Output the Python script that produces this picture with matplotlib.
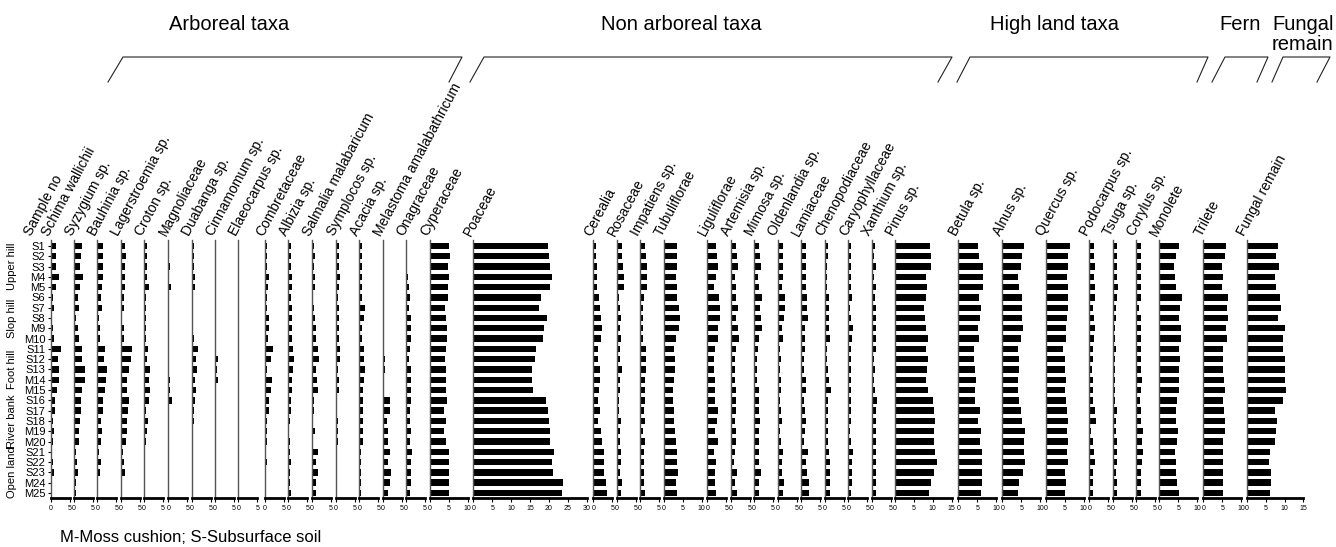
import numpy as np
import matplotlib.pyplot as plt
from matplotlib.lines import Line2D

plt.rcParams['font.family'] = ['Liberation Sans', 'DejaVu Sans']

samples = ['S1', 'S2', 'S3', 'M4', 'M5', 'S6', 'S7', 'S8', 'M9', 'M10',
           'S11', 'S12', 'S13', 'M14', 'M15', 'S16', 'S17', 'S18', 'M19', 'M20',
           'S21', 'S22', 'S23', 'M24', 'M25']
sites = ['Upper hill', 'Slop hill', 'Foot hill', 'River bank', 'Open land']

# percentages, S1 .. M25
schima = [1.3, 1.3, 1.3, 2.1, 1.3, 0.7, 0.9, 0.4, 0.6, 0.9, 2.7, 2.0, 2.3, 2.2, 1.7,
          1.2, 1.2, 0.7, 0.9, 0.7, 0.3, 0.6, 1.0, 0.2, 0.3]
syzygium = [2.1, 1.9, 1.7, 2.3, 1.5, 1.1, 1.3, 0.6, 1.1, 1.3, 2.2, 2.1, 3.0, 2.8, 2.2,
            1.8, 1.9, 1.5, 1.3, 1.2, 0.6, 0.9, 1.1, 0.5, 0.5]
bauhinia = [1.4, 1.4, 1.4, 1.6, 1.2, 0.9, 1.2, 0.5, 0.6, 0.7, 2.0, 1.9, 2.5, 2.3, 2.0,
            1.5, 1.4, 1.0, 1.2, 1.1, 0.4, 1.0, 0.7, 0.2, 0.2]
lagerstroemia = [1.1, 1.4, 1.2, 1.2, 1.1, 0.9, 0.9, 0.4, 0.8, 1.0, 2.9, 2.8, 2.1, 1.7, 1.7,
                 2.3, 1.9, 1.7, 1.7, 1.4, 0.7, 0.9, 1.2, 0.2, 0.4]
croton = [0.7, 0.7, 0.7, 0.8, 1.2, 0.5, 0.5, 0.5, 0.4, 0.4, 1.0, 0.8, 1.7, 1.2, 1.5,
          1.2, 0.4, 1.0, 0.8, 0.4, 0.2, 0.2, 0.2, 0.1, 0.1]
magnoliaceae = [0.3, 0.3, 0.4, 0.3, 0.8, 0.2, 0.2, 0.2, 0.2, 0.2, 0.3, 0.3, 0.3, 0.4, 0.5,
                0.9, 0.2, 0.1, 0.1, 0.1, 0.1, 0.1, 0.1, 0.0, 0.0]
duabanga = [0.5, 0.5, 0.5, 1.0, 0.9, 0.3, 0.4, 0.4, 0.4, 0.6, 1.6, 1.2, 1.4, 1.0, 1.1,
            0.8, 0.5, 0.6, 0.4, 0.4, 0.1, 0.1, 0.1, 0.1, 0.1]
cinnamomum = [0.1, 0.1, 0.1, 0.1, 0.1, 0.1, 0.1, 0.1, 0.1, 0.1, 0.3, 0.7, 0.4, 0.7, 0.3,
              0.1, 0.1, 0.1, 0.1, 0.1, 0.1, 0.1, 0.1, 0.1, 0.1]
elaeocarpus = [0.1, 0.1, 0.3, 0.1, 0.1, 0.1, 0.1, 0.1, 0.1, 0.1, 0.1, 0.1, 0.1, 0.1, 0.3,
               0.1, 0.1, 0.1, 0.1, 0.1, 0.1, 0.1, 0.1, 0.1, 0.1]
combretaceae = [0.4, 0.4, 0.4, 1.1, 0.9, 0.4, 0.4, 1.0, 1.0, 0.8, 2.0, 1.5, 0.6, 1.9, 1.5,
                1.1, 1.1, 0.5, 0.5, 0.4, 0.3, 0.4, 0.3, 0.2, 0.2]
albizia = [0.7, 0.7, 0.7, 0.9, 0.9, 0.7, 0.9, 0.9, 0.9, 0.9, 1.3, 1.6, 1.2, 1.1, 1.0,
           0.7, 0.7, 0.4, 0.3, 0.4, 0.5, 0.7, 0.4, 0.4, 0.6]
salmalia = [0.7, 0.9, 0.7, 0.9, 0.9, 0.4, 0.6, 1.0, 1.1, 1.1, 1.6, 1.9, 1.1, 1.3, 1.6,
            0.6, 0.6, 0.4, 0.9, 0.3, 1.6, 1.2, 1.6, 1.1, 1.2]
symplocos = [0.8, 0.7, 0.7, 1.0, 0.9, 0.4, 0.7, 0.9, 0.8, 0.8, 1.0, 1.0, 0.6, 0.8, 0.8,
             0.3, 0.3, 0.4, 0.5, 0.4, 0.1, 0.1, 0.3, 0.3, 0.3]
acacia = [0.7, 0.6, 0.7, 0.7, 0.7, 0.7, 1.5, 1.2, 0.7, 0.7, 1.2, 1.2, 1.5, 1.2, 1.1,
          0.9, 1.1, 0.9, 0.9, 1.0, 0.5, 0.4, 0.4, 0.4, 0.4]
melastoma = [0.2, 0.2, 0.2, 0.2, 0.2, 0.2, 0.2, 0.2, 0.2, 0.2, 0.4, 0.6, 0.6, 0.4, 0.4,
             2.0, 2.0, 1.2, 1.4, 1.5, 2.0, 1.5, 2.1, 1.8, 1.5]
onagraceae = [0.2, 0.2, 0.2, 0.5, 0.7, 1.1, 0.8, 1.2, 1.2, 1.2, 1.1, 0.8, 1.2, 1.2, 1.3,
              1.2, 1.1, 1.1, 1.2, 1.1, 1.6, 1.3, 1.2, 1.2, 1.1]
cyperaceae = [5.1, 5.4, 4.7, 5.0, 4.8, 4.8, 4.1, 4.2, 4.4, 4.5, 4.2, 3.9, 4.2, 4.2, 4.2,
              4.5, 3.8, 4.2, 3.8, 4.3, 5.0, 5.0, 4.9, 5.0, 5.0]
poaceae = [19.7, 20.1, 20.4, 20.7, 20.3, 17.8, 17.3, 19.6, 18.8, 18.4, 16.6, 16.4, 15.4, 15.4, 15.8,
           19.3, 19.7, 20.1, 20.4, 20.3, 21.3, 20.7, 21.0, 23.7, 23.5]
cerealia = [0.6, 0.6, 0.9, 1.1, 1.1, 1.6, 1.9, 2.0, 2.2, 2.1, 1.3, 1.2, 1.9, 1.8, 1.6,
            1.2, 1.9, 1.3, 2.1, 2.2, 2.7, 2.7, 2.7, 3.3, 3.5]
rosaceae = [1.4, 1.4, 1.6, 1.9, 2.0, 0.7, 0.9, 1.2, 0.9, 1.1, 0.9, 0.9, 1.3, 0.9, 0.9,
            0.6, 0.6, 1.1, 0.8, 0.9, 1.1, 1.1, 0.8, 1.3, 1.2]
impatiens = [1.3, 1.6, 1.9, 1.8, 1.9, 1.0, 0.7, 0.7, 0.7, 0.9, 1.6, 1.6, 1.6, 1.4, 1.4,
             1.4, 1.1, 1.3, 0.8, 1.3, 1.1, 1.1, 1.1, 1.1, 1.3]
tubuliflorae = [3.5, 3.5, 3.4, 3.2, 3.4, 3.5, 3.9, 4.2, 4.0, 3.2, 2.6, 2.9, 2.9, 2.7, 2.5,
                2.3, 2.7, 2.6, 3.0, 3.2, 3.4, 3.5, 3.7, 3.2, 3.4]
liguliflorae = [2.4, 2.5, 2.7, 2.2, 1.9, 3.2, 3.4, 3.3, 2.7, 2.9, 2.1, 1.9, 1.9, 2.0, 2.0,
                2.1, 2.7, 2.5, 2.1, 2.9, 1.9, 2.3, 2.0, 2.0, 2.3]
artemisia = [1.3, 1.6, 1.8, 1.2, 1.4, 1.4, 1.9, 1.4, 1.9, 2.1, 1.3, 1.2, 1.2, 1.2, 1.4,
             1.5, 1.5, 1.2, 1.4, 1.4, 1.1, 1.0, 1.7, 1.2, 1.6]
mimosa = [1.3, 1.7, 1.8, 1.1, 1.2, 2.1, 1.6, 1.9, 2.0, 1.2, 1.1, 0.9, 0.7, 0.9, 1.2,
          1.3, 1.2, 1.7, 1.2, 1.2, 1.2, 1.3, 1.8, 1.2, 1.4]
oldenlandia = [1.3, 1.5, 1.3, 1.5, 1.2, 1.9, 1.9, 1.6, 1.2, 1.4, 0.7, 1.0, 0.6, 1.0, 1.0,
               0.7, 0.8, 1.1, 0.6, 1.0, 1.5, 1.2, 1.2, 1.7, 1.3]
lamiaceae = [1.2, 1.2, 1.2, 1.2, 1.2, 1.5, 1.7, 1.8, 1.0, 1.1, 1.1, 0.8, 0.7, 1.2, 1.3,
             0.8, 1.1, 1.2, 1.1, 0.8, 1.8, 1.2, 1.6, 2.2, 2.2]
chenopodiaceae = [0.7, 0.7, 0.5, 0.6, 0.6, 1.1, 1.1, 1.0, 1.1, 1.2, 0.6, 0.5, 0.9, 1.1, 1.5,
                  0.9, 0.7, 0.9, 0.7, 0.9, 1.1, 1.2, 1.3, 1.3, 1.3]
caryophyllaceae = [0.6, 0.6, 0.6, 0.6, 0.7, 0.9, 0.5, 0.8, 1.2, 1.0, 0.6, 0.8, 0.7, 0.7, 0.7,
                   0.7, 0.6, 0.7, 0.4, 0.7, 1.2, 0.9, 0.9, 0.9, 0.7]
xanthium = [1.0, 0.6, 1.1, 0.7, 1.1, 1.0, 1.2, 1.1, 1.2, 1.2, 1.1, 0.7, 0.9, 0.7, 0.9,
            1.3, 1.2, 1.1, 1.2, 1.2, 1.2, 1.2, 1.2, 1.2, 1.2]
pinus = [9.3, 9.5, 9.6, 8.1, 8.4, 8.2, 7.8, 8.0, 8.2, 8.7, 8.2, 8.7, 8.4, 8.2, 8.7,
         10.0, 10.2, 10.6, 10.2, 10.4, 10.6, 11.1, 10.2, 9.5, 9.1]
betula = [5.3, 5.6, 6.6, 6.5, 6.6, 5.6, 5.9, 5.8, 5.2, 5.4, 4.2, 4.2, 4.4, 4.8, 4.4,
          4.3, 5.7, 5.1, 5.9, 5.7, 6.3, 6.4, 6.2, 6.4, 5.9]
alnus = [5.7, 5.2, 5.0, 4.2, 4.3, 5.1, 5.3, 5.2, 5.6, 4.9, 4.2, 4.5, 4.3, 4.2, 4.1,
         4.3, 5.0, 5.2, 6.1, 5.8, 5.8, 6.1, 5.5, 4.4, 4.1]
quercus = [6.3, 5.9, 5.8, 5.7, 6.0, 5.8, 5.9, 5.7, 5.4, 5.3, 4.7, 5.2, 5.0, 5.4, 5.2,
           5.3, 5.7, 6.0, 5.7, 5.9, 5.7, 5.8, 5.1, 5.3, 5.1]
podocarpus = [1.2, 1.3, 1.4, 1.2, 1.4, 1.4, 1.1, 1.2, 1.5, 1.3, 0.9, 1.1, 0.8, 1.1, 0.9,
              1.1, 1.4, 1.7, 0.4, 1.1, 1.2, 1.5, 1.0, 1.1, 1.0]
tsuga = [1.2, 1.1, 1.1, 1.2, 1.3, 1.1, 0.8, 0.8, 0.5, 0.7, 0.8, 0.7, 0.5, 0.7, 0.7,
         0.7, 1.2, 1.0, 0.8, 1.1, 1.1, 1.1, 0.9, 1.1, 1.1]
corylus = [1.2, 1.2, 1.2, 1.2, 1.2, 1.4, 0.8, 1.2, 1.2, 1.2, 1.2, 1.2, 1.2, 1.5, 1.4,
           1.1, 1.4, 1.4, 1.8, 1.5, 1.9, 1.5, 1.4, 1.2, 1.3]
monolete = [5.3, 4.4, 4.0, 4.2, 4.4, 5.9, 5.5, 5.3, 5.7, 5.8, 5.3, 5.5, 5.1, 5.3, 5.3,
            4.8, 4.5, 4.5, 5.0, 4.6, 4.2, 4.4, 4.4, 4.6, 5.1]
trilete = [6.0, 5.8, 5.0, 5.1, 5.0, 6.5, 6.4, 6.5, 6.1, 6.3, 5.2, 5.3, 5.3, 5.6, 5.8,
           5.3, 5.5, 5.7, 5.8, 5.3, 5.1, 5.1, 5.1, 5.1, 5.3]
fungal = [8.4, 7.8, 8.5, 7.4, 7.8, 8.8, 9.1, 8.4, 10.0, 9.6, 9.7, 10.0, 10.2, 10.0, 10.4,
          9.7, 7.5, 8.0, 7.8, 7.5, 6.2, 5.8, 6.5, 6.4, 6.2]

# (label, values, axis maximum)
taxa = [
    ('Schima wallichii', schima, 5), ('Syzygium sp.', syzygium, 5),
    ('Bauhinia sp.', bauhinia, 5), ('Lagerstroemia sp.', lagerstroemia, 5),
    ('Croton sp.', croton, 5), ('Magnoliaceae', magnoliaceae, 5),
    ('Duabanga sp.', duabanga, 5), ('Cinnamomum sp.', cinnamomum, 5),
    ('Elaeocarpus sp.', elaeocarpus, 5), ('Combretaceae', combretaceae, 5),
    ('Albizia sp.', albizia, 5), ('Salmalia malabaricum', salmalia, 5),
    ('Symplocos sp.', symplocos, 5), ('Acacia sp.', acacia, 5),
    ('Melastoma amalabathricum', melastoma, 5), ('Onagraceae', onagraceae, 5),
    ('Cyperaceae', cyperaceae, 10), ('Poaceae', poaceae, 30),
    ('Cerealia', cerealia, 5), ('Rosaceae', rosaceae, 5),
    ('Impatiens sp.', impatiens, 5), ('Tubuliflorae', tubuliflorae, 10),
    ('Liguliflorae', liguliflorae, 5), ('Artemisia sp.', artemisia, 5),
    ('Mimosa sp.', mimosa, 5), ('Oldenlandia sp.', oldenlandia, 5),
    ('Lamiaceae', lamiaceae, 5), ('Chenopodiaceae', chenopodiaceae, 5),
    ('Caryophyllaceae', caryophyllaceae, 5), ('Xanthium sp.', xanthium, 5),
    ('Pinus sp.', pinus, 15), ('Betula sp.', betula, 10),
    ('Alnus sp.', alnus, 10), ('Quercus sp.', quercus, 10),
    ('Podocarpus sp.', podocarpus, 5), ('Tsuga sp.', tsuga, 5),
    ('Corylus sp.', corylus, 5), ('Monolete', monolete, 10),
    ('Trilete', trilete, 10), ('Fungal remain', fungal, 15),
]

# layout: left edge (pixels) of each panel
panel_x = [50.7, 74, 97.3, 120.7, 144, 168.3, 191.7, 215, 238.3, 265, 288.3, 311.7,
           336, 359.3, 382.7, 406, 430, 473.3, 593.3, 616.7, 640, 664, 707.3, 730.7,
           754, 777.7, 801, 825, 848.3, 871.7, 895, 958.3, 1002.3, 1045.7, 1089.3,
           1112.7, 1136, 1159.3, 1203.3, 1246.7]

W, H = 1336, 547
px_per = 3.78
y_top, y_bot = 240, 498
n = len(samples)
ypos = np.arange(n)

fig = plt.figure(figsize=(W / 100, H / 100), dpi=100)

for i, ((name, vals, xmax), x0) in enumerate(zip(taxa, panel_x)):
    ax = fig.add_axes([x0 / W, 1 - y_bot / H, xmax * px_per / W, (y_bot - y_top) / H])
    ax.barh(ypos, vals, height=0.62, color='black')
    ax.set_xlim(0, xmax)
    ax.set_ylim(24.49, -0.58)
    for s in ['top', 'right']:
        ax.spines[s].set_visible(False)
    ax.spines['left'].set_color('#555555')
    ax.spines['left'].set_linewidth(1)
    ax.spines['bottom'].set_linewidth(2)
    ax.set_xticks(np.arange(0, xmax + 1, 5))
    ax.tick_params(axis='x', direction='out', length=3, width=0.8, pad=2,
                   labelsize=5)
    for lab in ax.get_xticklabels():
        lab.set_family(['Liberation Sans Narrow', 'Liberation Sans'])
    if i == 0:
        ax.set_yticks(ypos)
        ax.set_yticklabels(samples, fontsize=8)
        ax.tick_params(axis='y', direction='out', length=2.5, pad=1.5)
    else:
        ax.set_yticks([])
    fig.text((x0 - 2) / W, 1 - 237 / H, name, rotation=62, rotation_mode='anchor',
             ha='left', va='baseline', fontsize=10)

fig.text(31 / W, 1 - 237 / H, 'Sample no', rotation=62, rotation_mode='anchor',
         ha='left', va='baseline', fontsize=10)

# site groups along the left edge
for k, site in enumerate(sites):
    yc = y_top + (0.58 + 5 * k + 2) * (y_bot - y_top) / 25.07
    fig.text(12 / W, 1 - yc / H, site, rotation=90, ha='center', va='center', fontsize=8)

# group brackets and titles
brackets = [(108, 123, 462, 449), (470, 484, 952, 938), (957, 970, 1208, 1197),
            (1212, 1225, 1268, 1257), (1272, 1283, 1330, 1317)]
for a, b, c, d in brackets:
    fig.add_artist(Line2D([a / W, b / W, c / W, d / W],
                          [1 - 82 / H, 1 - 57 / H, 1 - 57 / H, 1 - 82 / H],
                          transform=fig.transFigure, color='#222222', lw=0.8))

title_fs = 14.5
fig.text(229 / W, 1 - 25 / H, 'Arboreal taxa', ha='center', va='center', fontsize=title_fs)
fig.text(681 / W, 1 - 25 / H, 'Non arboreal taxa', ha='center', va='center', fontsize=title_fs)
fig.text(1055 / W, 1 - 25 / H, 'High land taxa', ha='center', va='center', fontsize=title_fs)
fig.text(1240 / W, 1 - 25 / H, 'Fern', ha='center', va='center', fontsize=title_fs)
fig.text(1272 / W, 1 - 25 / H, 'Fungal', ha='left', va='center', fontsize=title_fs)
fig.text(1272 / W, 1 - 45 / H, 'remain', ha='left', va='center', fontsize=title_fs)

fig.text(60 / W, 1 - 537 / H, 'M-Moss cushion; S-Subsurface soil', ha='left',
         va='center', fontsize=12)

fig.savefig('out.png', dpi=100)
